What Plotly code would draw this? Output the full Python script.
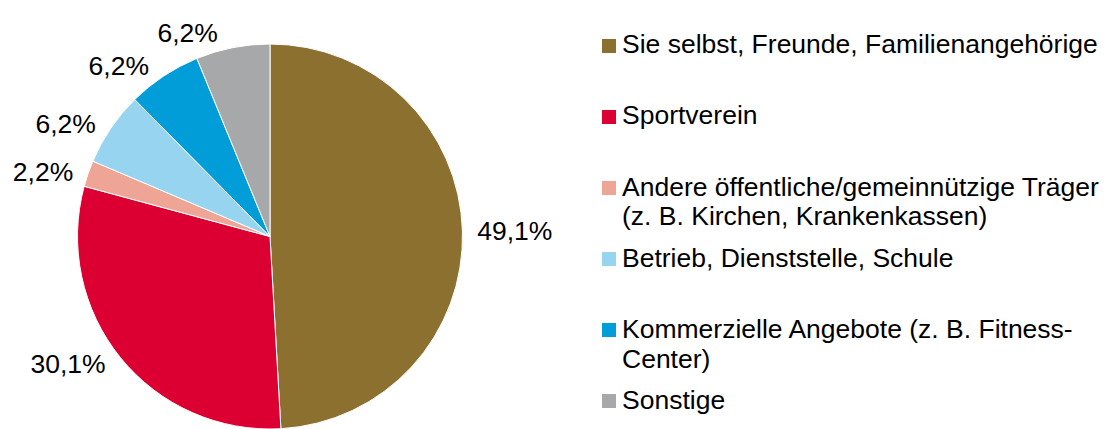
import plotly.graph_objects as go

# ---- data ----
categories = [
    "Sie selbst, Freunde, Familienangehörige",
    "Sportverein",
    "Andere öffentliche/gemeinnützige Träger\n(z. B. Kirchen, Krankenkassen)",
    "Betrieb, Dienststelle, Schule",
    "Kommerzielle Angebote (z. B. Fitness-\nCenter)",
    "Sonstige",
]
values = [49.1, 30.1, 2.2, 6.2, 6.2, 6.2]
colors = ["#8C702F", "#DC0032", "#EFA596", "#97D4EF", "#009DD8", "#A7A8AA"]

W, H = 1104, 429
FONT = "Liberation Sans, Arial, sans-serif"
FS = 26.5
PAD = "\u00a0"

fig = go.Figure()
fig.add_trace(go.Pie(
    labels=[c.replace("\n", " ") for c in categories],
    values=values,
    sort=False,
    direction="clockwise",
    rotation=0,
    marker=dict(colors=colors, line=dict(color="white", width=1)),
    textposition="outside",
    texttemplate=PAD + "%{value:.1f}%" + PAD,
    textfont=dict(family=FONT, size=FS, color="#000000"),
    showlegend=False,
    hoverinfo="label+value",
    domain=dict(x=[77.5 / W, 462.5 / W], y=[0, 385 / H]),
))

# ---- custom legend (equal slots like the original) ----
shapes = []
annotations = []
first_center = 46
slot = 71
line_gap = 30
sq = 14
for i, (cat, col) in enumerate(zip(categories, colors)):
    cy = first_center + slot * i
    shapes.append(dict(
        type="rect", xref="paper", yref="paper",
        x0=602 / W, x1=(602 + sq) / W,
        y0=1 - (cy - sq / 2) / H, y1=1 - (cy + sq / 2) / H,
        fillcolor=col, line=dict(width=0),
    ))
    for j, line in enumerate(cat.split("\n")):
        ly = cy + j * line_gap - 1.5
        annotations.append(dict(
            text=line, xref="paper", yref="paper",
            x=620 / W, y=1 - ly / H, xanchor="left", yanchor="middle",
            showarrow=False, font=dict(family=FONT, size=FS, color="#000000"),
        ))

fig.update_layout(
    width=W, height=H,
    margin=dict(l=0, r=0, t=0, b=0, autoexpand=False),
    paper_bgcolor="white", plot_bgcolor="white",
    separators=",.",
    shapes=shapes, annotations=annotations,
)

fig.write_html(
    "out.html",
    config={"displayModeBar": False},
    post_script="document.body.style.margin='0';document.body.style.overflow='hidden';",
)
